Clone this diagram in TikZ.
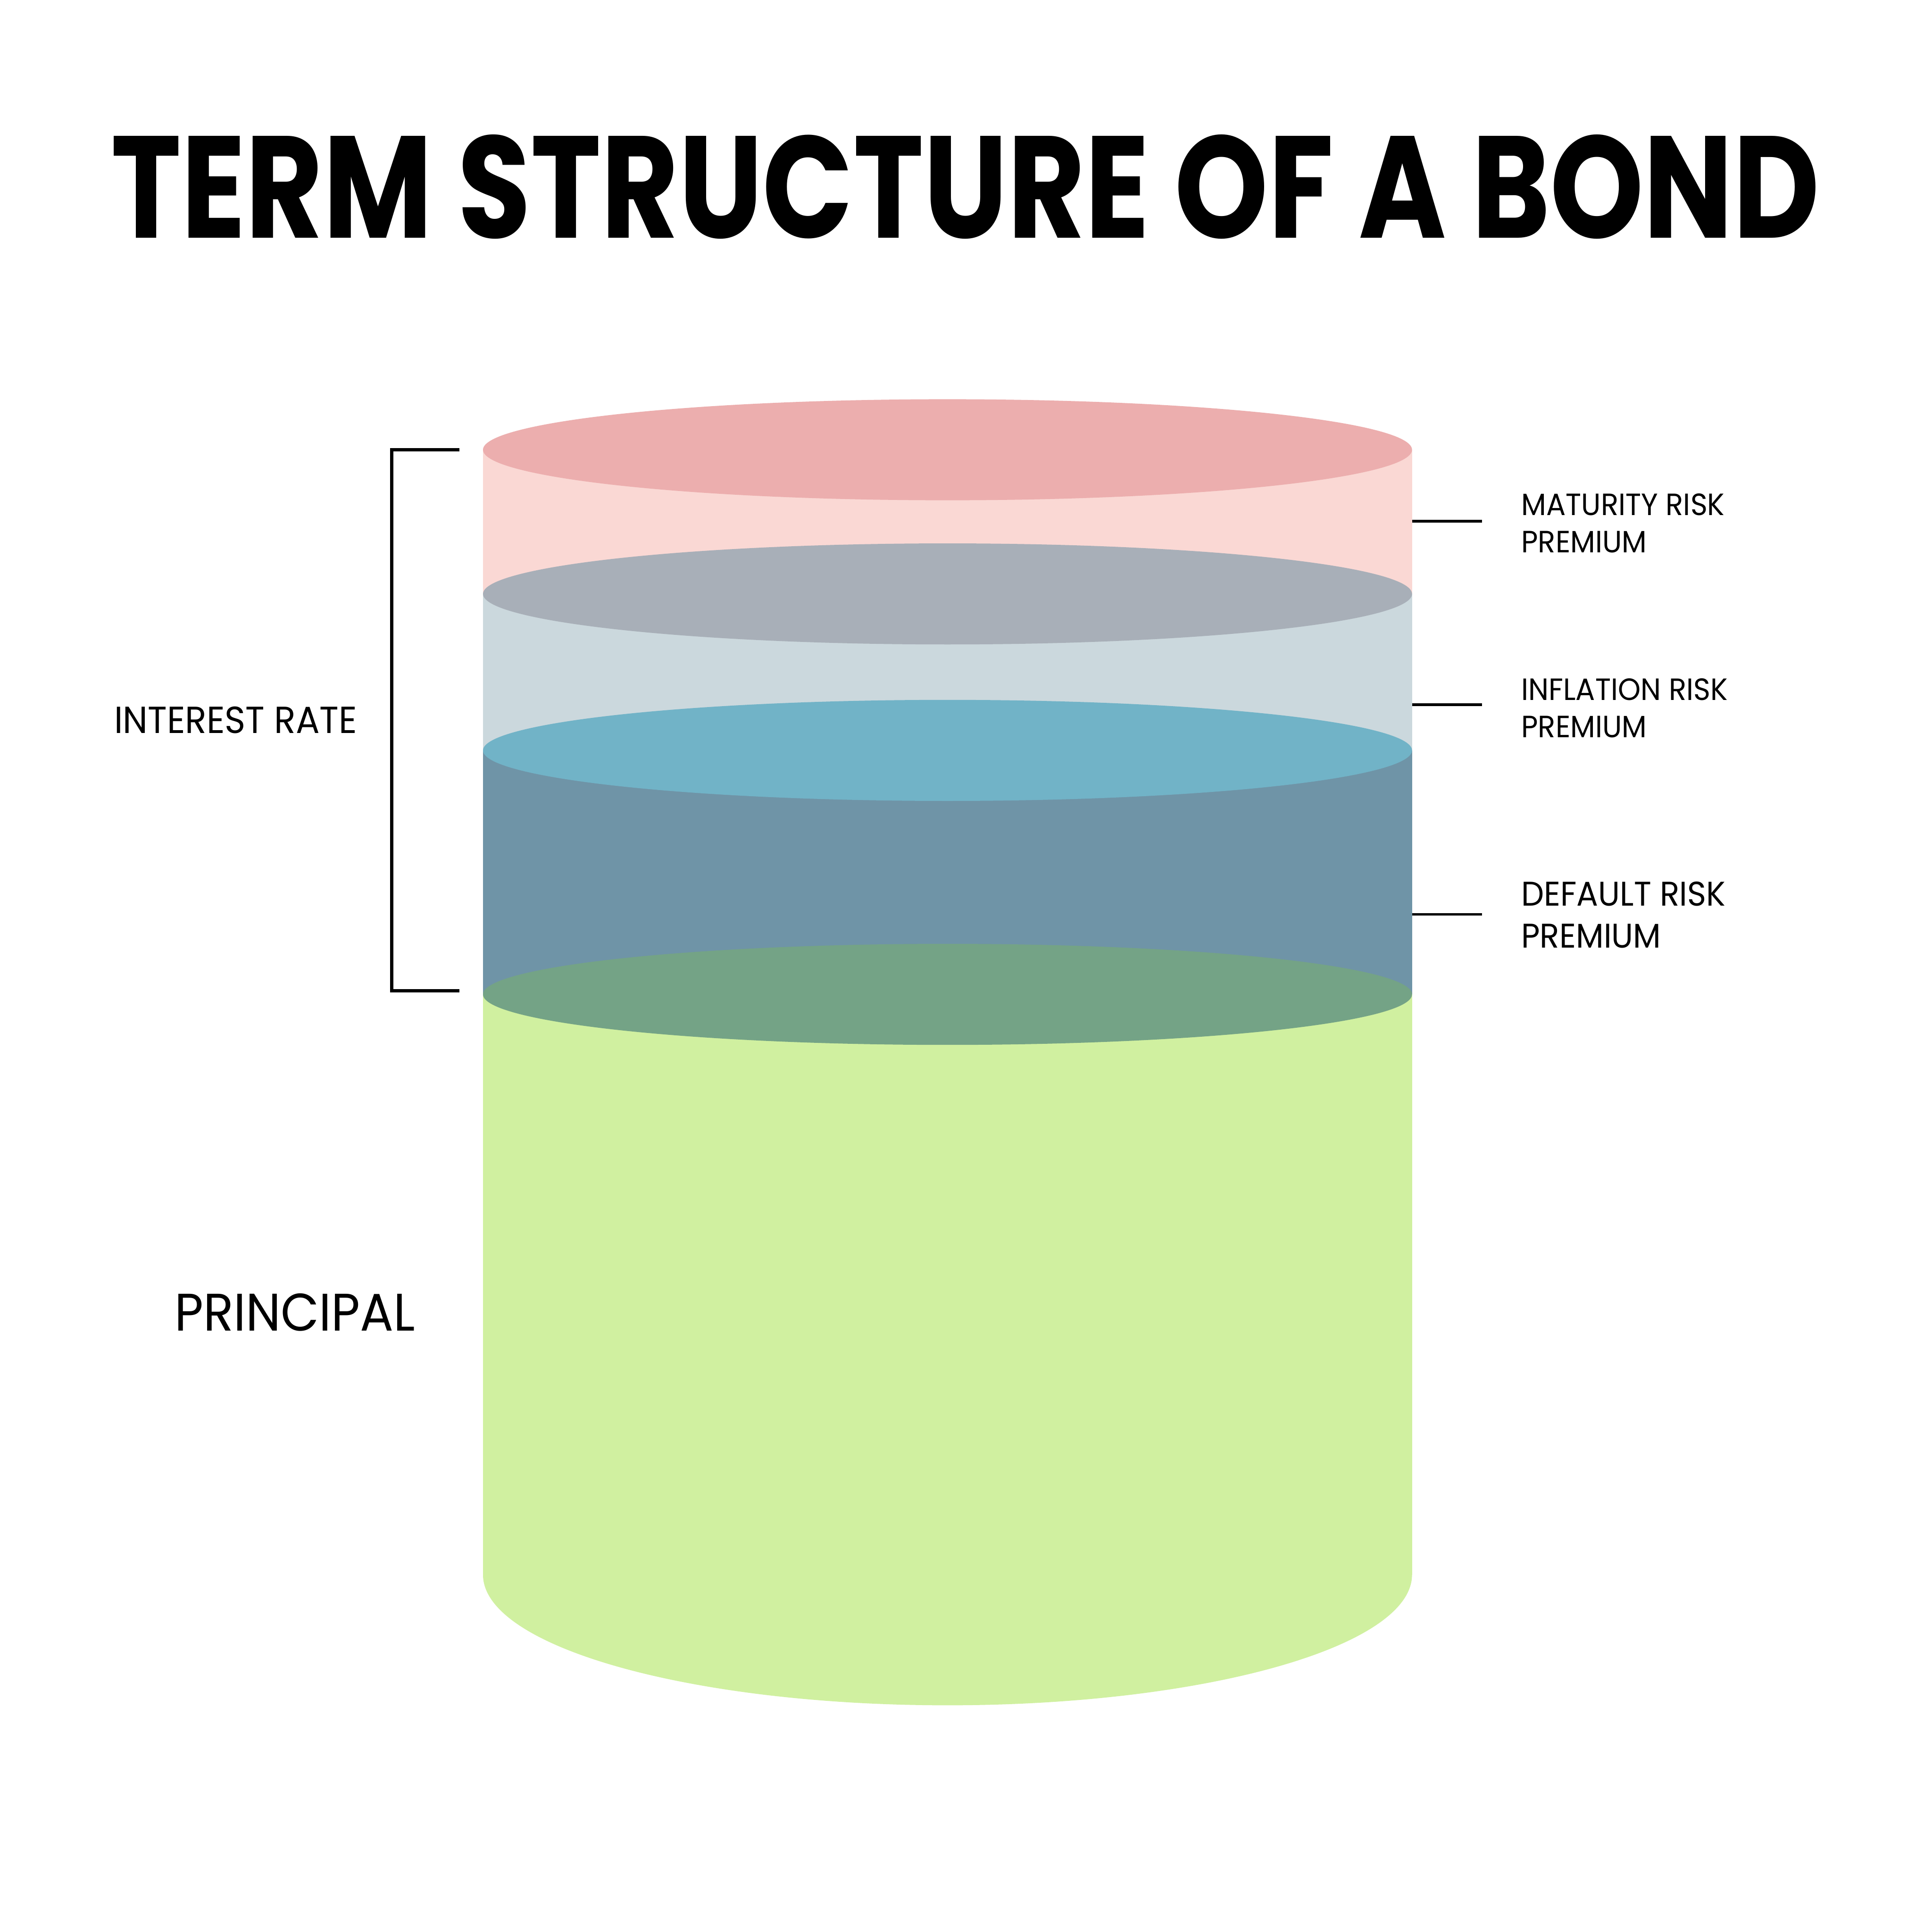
\documentclass[tikz,border=0pt]{standalone}
\usepackage{fontspec}
\setmainfont{Poppins}
\newfontfamily\titlefont{Poppins}[FakeStretch=0.82]
\newfontfamily\labelfont{Poppins}[FakeStretch=0.94]
\usepackage{tikz}
\usetikzlibrary{positioning,calc}
\usepackage{xcolor}
\definecolor{pinktop}{HTML}{ECAEAE}
\definecolor{pinkside}{HTML}{FAD8D4}
\definecolor{greytop}{HTML}{A8AFB8}
\definecolor{greyside}{HTML}{CBD8DD}
\definecolor{tealtop}{HTML}{71B3C7}
\definecolor{blueside}{HTML}{6F94A7}
\definecolor{greentop}{HTML}{74A386}
\definecolor{greenside}{HTML}{D0F0A0}

\begin{document}
\begin{tikzpicture}[x={(0.01cm,0)}, y={(0,-0.01cm)},
    every node/.style={inner sep=0pt, text=black},
    risklabel/.style={anchor=north west, align=left,
        font=\labelfont\fontsize{7.1pt}{8.6pt}\selectfont},
    tick/.style={line width=0.6pt, shorten >=0.31cm},
    bracket/.style={line width=0.7pt}]
    \useasboundingbox (0,0) rectangle (1568,1568);
    % layer sides
    \fill[pinkside] (392,365) rectangle (1146,482);
    \fill[greyside] (392,482) rectangle (1146,609);
    \fill[blueside] (392,609) rectangle (1146,807);
    \fill[greenside] (392,807) rectangle (1146,1278);
    \fill[greenside] (769,1278) ellipse [x radius=377, y radius=106];
    % layer tops
    \fill[pinktop] (769,365) ellipse [x radius=377, y radius=41];
    \fill[greytop] (769,482) ellipse [x radius=377, y radius=41];
    \fill[tealtop] (769,609) ellipse [x radius=377, y radius=41];
    \fill[greentop] (769,807) ellipse [x radius=377, y radius=41];

    \node[anchor=base, font=\titlefont\fontsize{33.5pt}{36pt}\selectfont\bfseries] (title)
        at (783.5,193) {TERM STRUCTURE OF A BOND};

    \node[anchor=base west, font=\labelfont\fontsize{8.7pt}{10pt}\selectfont] (intrate)
        at (92,595) {INTEREST RATE};
    \node[anchor=base west, font=\labelfont\fontsize{12.2pt}{14pt}\selectfont] (principal)
        at (141,1080) {PRINCIPAL};

    \node[risklabel] (mrp) at (1234,400) {MATURITY RISK\\PREMIUM};
    \node[risklabel] (irp) at (1234,550) {INFLATION RISK\\PREMIUM};
    \node[risklabel, font=\labelfont\fontsize{7.9pt}{9.6pt}\selectfont] (drp)
        at (1234,715) {DEFAULT RISK\\PREMIUM};

    % bracket for the interest rate
    \coordinate (brtop) at (373,365);
    \coordinate (brbot) at (373,804);
    \draw[bracket] (brtop) -- ++(-55,0) |- (brbot);

    % ticks to the premiums
    \coordinate (mrpedge) at (1146,423);
    \coordinate (irpedge) at (1146,572);
    \coordinate (drpedge) at (1146,742);
    \draw[tick] (mrpedge) -- (mrpedge -| mrp.west);
    \draw[tick] (irpedge) -- (irpedge -| irp.west);
    \draw[tick] (drpedge) -- (drpedge -| drp.west);
\end{tikzpicture}
\end{document}
